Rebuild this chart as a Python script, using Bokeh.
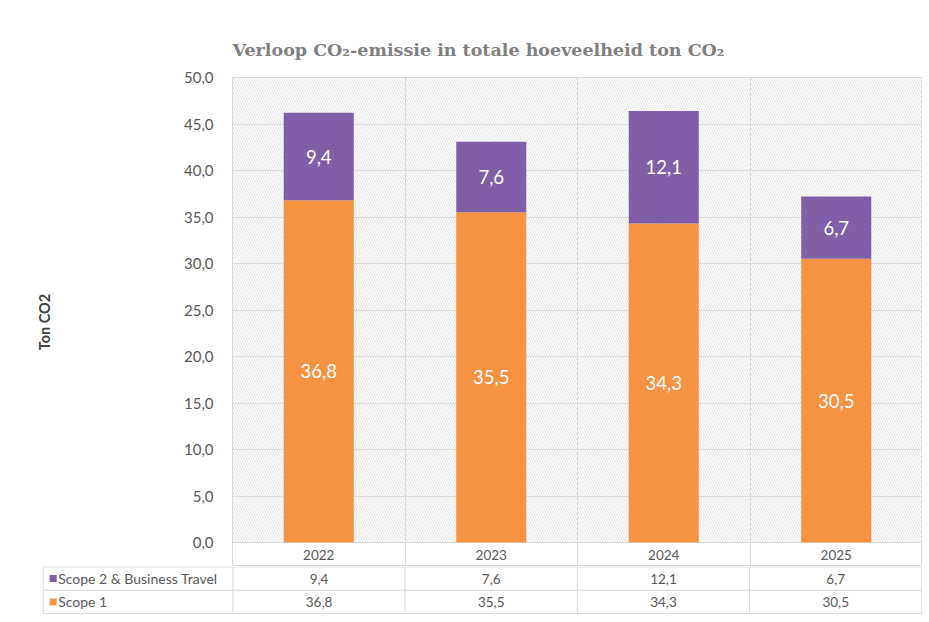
from bokeh.plotting import figure
from bokeh.models import Range1d, FixedTicker, CustomJSTickFormatter, ColumnDataSource
from bokeh.core.properties import value
from bokeh.embed import file_html
from bokeh.resources import INLINE

# ---- data ----
years = ["2022", "2023", "2024", "2025"]
scope1 = [36.8, 35.5, 34.3, 30.5]
scope2 = [9.4, 7.6, 12.1, 6.7]
series_names = ["Scope 2 & Business Travel", "Scope 1"]
y_ticks = [0, 5, 10, 15, 20, 25, 30, 35, 40, 45, 50]

ORANGE = "#F59342"
PURPLE = "#7F60A8"
GRID = "#d9d9d9"
TXT = "#595959"
FONT = "Lato"

def fmt(v):
    return f"{v:.1f}".replace(".", ",")

idx = list(range(len(years)))
totals = [a + b for a, b in zip(scope1, scope2)]
ymax = y_ticks[-1]
PX_PER_UNIT = 9.3          # vertical scale of the plot area
HEADER_ROW = 24 / PX_PER_UNIT  # year row below zero, in data units

# ---- chart figure (plot area + year header row) ----
p = figure(width=922, height=566, output_backend="svg", toolbar_location=None,
           x_range=Range1d(-0.5, len(years) - 0.5),
           y_range=Range1d(-HEADER_ROW, ymax),
           min_border_left=232, min_border_right=0, min_border_bottom=0,
           min_border_top=77)
p.title.text = "Verloop CO\u2082-emissie in totale hoeveelheid ton CO\u2082"
p.title.align = "left"
p.title.offset = 0
p.title.text_font = "DejaVu Serif"
p.title.text_font_style = "bold"
p.title.text_font_size = "17.5px"
p.title.text_color = "#7f7f7f"
p.title.standoff = 35

p.xaxis.visible = False
p.xgrid.ticker = FixedTicker(ticks=[i + 0.5 for i in idx[:-1]])
p.xgrid.grid_line_color = GRID
p.ygrid.grid_line_color = GRID
p.outline_line_color = GRID

ya = p.yaxis[0]
ya.ticker = FixedTicker(ticks=y_ticks)
ya.formatter = CustomJSTickFormatter(code="return tick.toFixed(1).replace('.', ',');")
ya.axis_line_color = None
ya.major_tick_line_color = None
ya.minor_tick_line_color = None
ya.major_label_text_font = FONT
ya.major_label_text_font_size = "15px"
ya.major_label_text_color = TXT
ya.major_label_standoff = 13
ya.axis_label = "Ton CO2"
ya.axis_label_text_font = FONT
ya.axis_label_text_font_style = "bold"
ya.axis_label_text_font_size = "14.5px"
ya.axis_label_text_color = "#404040"
ya.axis_label_standoff = 128

# hatched plot background
p.quad(left=[-0.5], right=[len(years) - 0.5], bottom=[y_ticks[0]], top=[ymax],
       fill_color=None, line_color=None, hatch_pattern="\\", hatch_color="#e2e2e2",
       hatch_scale=5, hatch_weight=1)

src = ColumnDataSource(dict(
    x=idx, s1=scope1, s2=scope2, tot=totals,
    m1=[v / 2 for v in scope1],
    m2=[a + b / 2 for a, b in zip(scope1, scope2)],
    l1=[fmt(v) for v in scope1], l2=[fmt(v) for v in scope2],
))
BW = 0.406
p.vbar(x="x", width=BW, bottom=0, top="s1", source=src, fill_color=ORANGE, line_color=None)
p.vbar(x="x", width=BW, bottom="s1", top="tot", source=src, fill_color=PURPLE, line_color=None)
for col_y, col_t in (("m1", "l1"), ("m2", "l2")):
    p.text(x="x", y=col_y, text=col_t, source=src, text_color="white",
           text_font=value(FONT), text_font_size="18.5px",
           text_align="center", text_baseline="middle")

# year header row (category labels)
p.text(x=idx, y=[-HEADER_ROW / 2] * len(idx), text=years, text_color=TXT,
       text_font=value(FONT), text_font_size="13.5px", text_align="center",
       text_baseline="middle")

# ---- data table figure (series rows) ----
COL_PX = 690 / len(years)
LEG_W = 190 / COL_PX
xl = -0.5 - LEG_W
t = figure(width=922, height=48, output_backend="svg", toolbar_location=None,
           x_range=Range1d(xl - 0.004, len(years) - 0.5 + 0.004),
           y_range=Range1d(-0.04, 2.02),
           min_border_left=42, min_border_right=0, min_border_top=0, min_border_bottom=0)
t.axis.visible = False
t.grid.visible = False
t.outline_line_color = None

vx = [i - 0.5 for i in range(len(years) + 1)] + [xl]
t.segment(x0=vx, y0=[0] * len(vx), x1=vx, y1=[2] * len(vx), line_color=GRID, line_width=1)
t.segment(x0=[xl] * 3, y0=[2, 1, 0], x1=[len(years) - 0.5] * 3, y1=[2, 1, 0],
          line_color=GRID, line_width=1)

rows = [(1.5, scope2, PURPLE), (0.5, scope1, ORANGE)]
for (ry, vals, colr), name in zip(rows, series_names):
    t.text(x=idx, y=[ry] * len(idx), text=[fmt(v) for v in vals], text_color=TXT,
           text_font=value(FONT), text_font_size="13.5px", text_align="center",
           text_baseline="middle")
    t.scatter(x=[xl + 10 / COL_PX], y=[ry], marker="square", size=7,
              fill_color=colr, line_color=None)
    t.text(x=[xl + 15 / COL_PX], y=[ry], text=[name], text_color=TXT, text_font=value(FONT),
           text_font_size="14px", text_align="left", text_baseline="middle")

open("out.html", "w").write(file_html([p, t], INLINE))
